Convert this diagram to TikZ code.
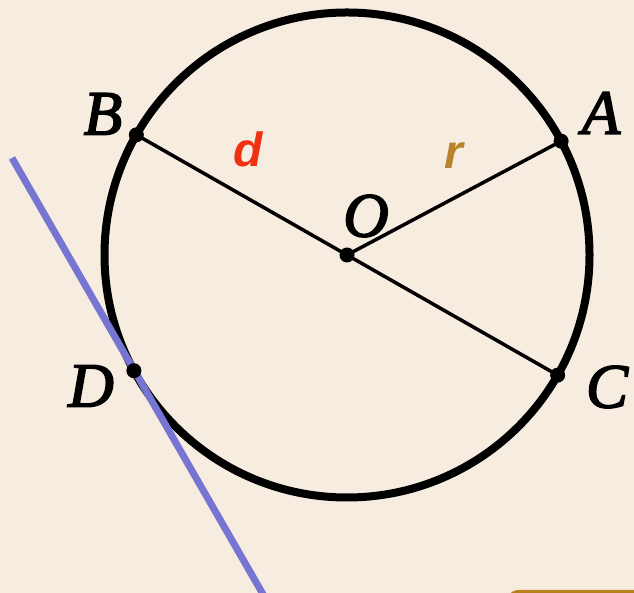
\documentclass[tikz,border=0pt]{standalone}
\usepackage{fontspec}
\setmainfont{Liberation Serif}
\setsansfont{Liberation Sans}
\newfontface\ptface[FakeBold=2.5]{Liberation Serif Italic}
\usetikzlibrary{positioning, calc}
\definecolor{paper}{HTML}{F7ECE0}
\definecolor{dred}{HTML}{F03212}
\definecolor{rgold}{HTML}{B8832A}
\definecolor{tanblue}{HTML}{7676D2}
\definecolor{tabgold}{HTML}{B8801C}
\tikzset{
  point/.style={circle, fill=black, inner sep=0pt, minimum size=15pt},
  ptlabel/.style={inner sep=0pt, font=\fontsize{63}{63}\ptface},
  seglabel/.style={inner sep=0pt, font=\fontsize{48}{48}\selectfont\sffamily\bfseries\itshape},
  chord/.style={line width=3.5pt},
  rim/.style={line width=8pt},
  tangent/.style={line width=7pt, tanblue},
}
\begin{document}
\begin{tikzpicture}[x=1pt, y=1pt]
    \fill[paper] (0,0) rectangle (634,593);
    \useasboundingbox (0,0) rectangle (634,593);
    \fill[tabgold, rounded corners=14pt] (505,-30) rectangle (670,3);

    \coordinate (O) at (347,338);
    \coordinate (A) at ($(O)+(28:242.5)$);
    \coordinate (B) at ($(O)+(150.3:242.5)$);
    \coordinate (C) at ($(O)+(-29.7:242.5)$);
    \coordinate (D) at ($(O)+(208.5:242.5)$);
    \coordinate (T1) at (12,435);
    \coordinate (T2) at (264,-3);

    \draw[rim] (O) circle (242.5);
    \draw[chord] (B) -- (C);
    \draw[chord] (O) -- (A);
    \draw[tangent] (T1) -- (T2);

    \node (O dot) [point] at (O) {};
    \node (A dot) [point] at (A) {};
    \node (B dot) [point] at (B) {};
    \node (C dot) [point] at (C) {};
    \node (D dot) [point] at (D) {};

    \node (O label) [ptlabel] at (366,377) {O};
    \node (A label) [ptlabel] at (601,480) {A};
    \node (B label) [ptlabel] at (103,479) {B};
    \node (C label) [ptlabel] at (607,206) {C};
    \node (D label) [ptlabel] at (91,207) {D};
    \node (d label) [seglabel, dred] at (248,444) {d};
    \node (r label) [seglabel, rgold] at (454,437) {r};
\end{tikzpicture}
\end{document}
